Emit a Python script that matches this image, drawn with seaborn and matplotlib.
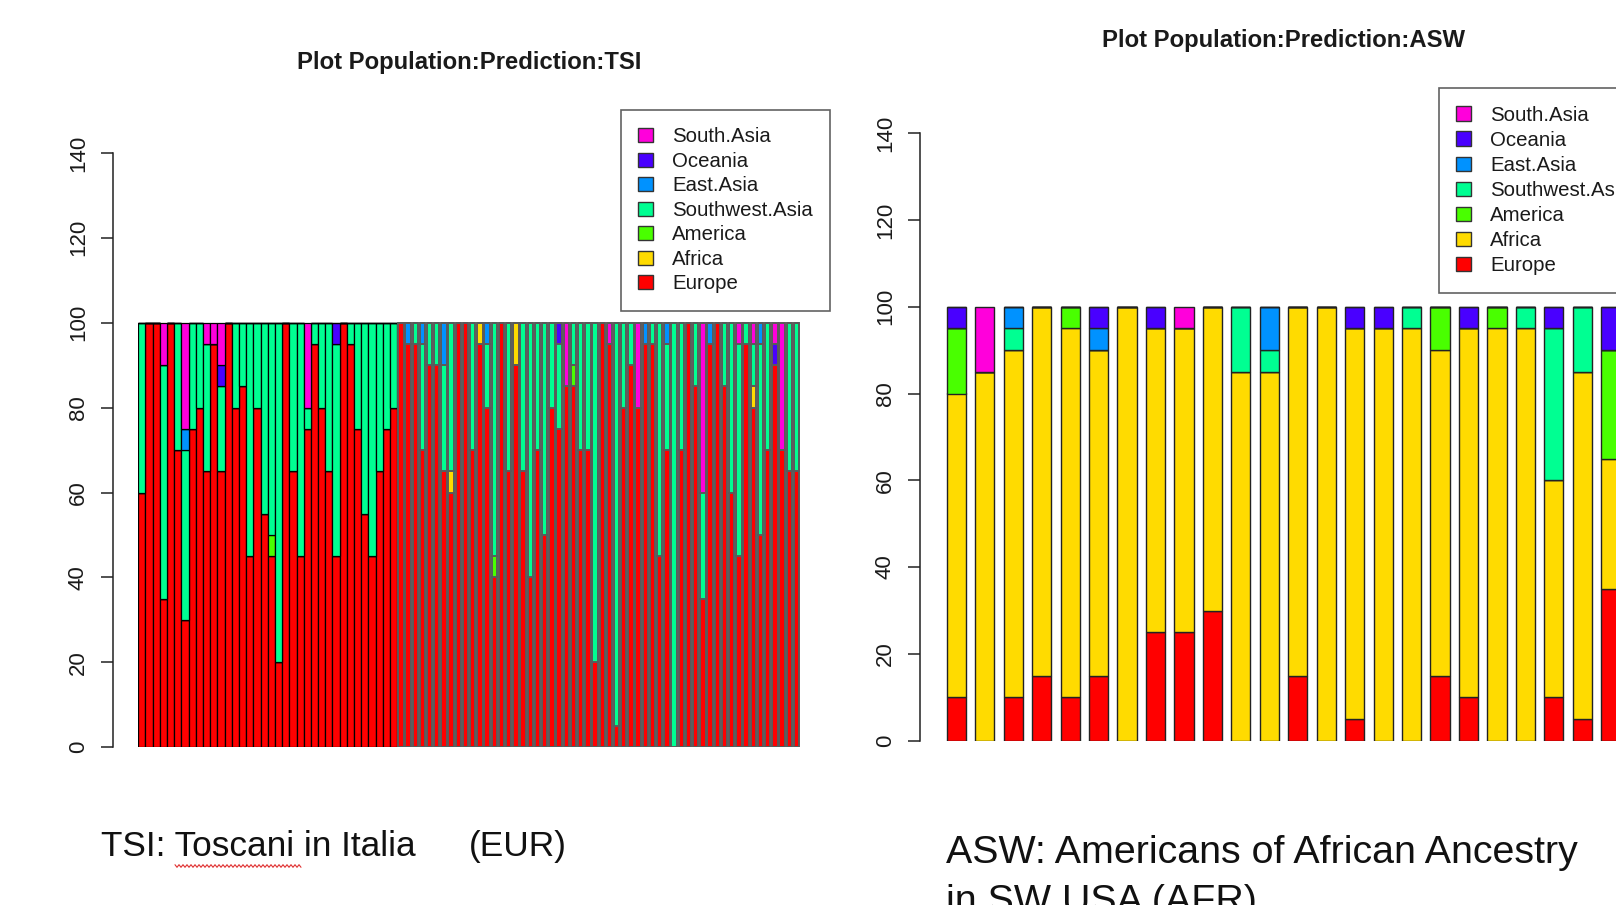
import numpy as np
import pandas as pd
import matplotlib
matplotlib.use("Agg")
import matplotlib.pyplot as plt
from matplotlib.patches import Patch
from matplotlib.lines import Line2D
import seaborn as sns

# Ancestry regions, listed top-of-stack first (legend order)
regions = ["South.Asia", "Oceania", "East.Asia", "Southwest.Asia",
           "America", "Africa", "Europe"]
region_colors = ["#FF00DB", "#4900FF", "#0092FF", "#00FF92",
                 "#49FF00", "#FFDB00", "#FF0000"]

# TSI individuals: predicted share (%) per region
tsi_europe = [60, 100, 100, 35, 100, 70, 30, 75, 80, 65,
              95, 65, 100, 80, 85, 45, 80, 55, 45, 20,
              100, 65, 45, 75, 95, 80, 65, 45, 100, 95,
              75, 55, 45, 65, 75, 80, 100, 95, 95, 70,
              90, 90, 65, 60, 100, 100, 70, 95, 80, 40,
              100, 65, 90, 65, 40, 70, 50, 80, 75, 85,
              85, 70, 70, 20, 100, 95, 5, 80, 90, 80,
              95, 95, 45, 70, 0, 70, 100, 85, 35, 95,
              100, 85, 60, 45, 95, 80, 50, 70, 90, 70,
              65, 65]
tsi_africa = [0, 0, 0, 0, 0, 0, 0, 0, 0, 0,
              0, 0, 0, 0, 0, 0, 0, 0, 0, 0,
              0, 0, 0, 0, 0, 0, 0, 0, 0, 0,
              0, 0, 0, 0, 0, 0, 0, 0, 0, 0,
              0, 0, 0, 5, 0, 0, 0, 5, 0, 0,
              0, 0, 10, 0, 0, 0, 0, 0, 0, 0,
              0, 0, 0, 0, 0, 0, 0, 0, 0, 0,
              0, 0, 0, 0, 0, 0, 0, 0, 0, 0,
              0, 0, 0, 0, 0, 5, 0, 0, 0, 0,
              0, 0]
tsi_america = [0, 0, 0, 0, 0, 0, 0, 0, 0, 0,
               0, 0, 0, 0, 0, 0, 0, 0, 5, 0,
               0, 0, 0, 0, 0, 0, 0, 0, 0, 0,
               0, 0, 0, 0, 0, 0, 0, 0, 0, 0,
               0, 0, 0, 0, 0, 0, 0, 0, 0, 5,
               0, 0, 0, 0, 0, 0, 0, 0, 0, 0,
               5, 0, 0, 0, 0, 0, 0, 0, 0, 0,
               0, 0, 0, 0, 0, 0, 0, 0, 0, 0,
               0, 0, 0, 0, 0, 0, 0, 0, 0, 0,
               0, 0]
tsi_southwest_asia = [40, 0, 0, 55, 0, 30, 40, 25, 20, 30,
                      0, 20, 0, 20, 15, 55, 20, 45, 50, 80,
                      0, 35, 55, 5, 5, 20, 35, 50, 0, 5,
                      25, 45, 55, 35, 25, 20, 0, 0, 5, 25,
                      10, 10, 25, 35, 0, 0, 30, 0, 15, 55,
                      0, 35, 0, 35, 60, 30, 50, 20, 20, 0,
                      10, 30, 30, 80, 0, 0, 95, 20, 10, 0,
                      0, 5, 55, 25, 100, 30, 0, 15, 25, 0,
                      0, 15, 40, 50, 5, 10, 45, 30, 0, 0,
                      35, 35]
tsi_east_asia = [0, 0, 0, 0, 0, 0, 5, 0, 0, 0,
                 0, 0, 0, 0, 0, 0, 0, 0, 0, 0,
                 0, 0, 0, 0, 0, 0, 0, 0, 0, 0,
                 0, 0, 0, 0, 0, 0, 0, 5, 0, 5,
                 0, 0, 10, 0, 0, 0, 0, 0, 5, 0,
                 0, 0, 0, 0, 0, 0, 0, 0, 0, 0,
                 0, 0, 0, 0, 0, 0, 0, 0, 0, 0,
                 5, 0, 0, 5, 0, 0, 0, 0, 0, 5,
                 0, 0, 0, 0, 0, 0, 5, 0, 0, 0,
                 0, 0]
tsi_oceania = [0, 0, 0, 0, 0, 0, 0, 0, 0, 0,
               0, 5, 0, 0, 0, 0, 0, 0, 0, 0,
               0, 0, 0, 0, 0, 0, 0, 5, 0, 0,
               0, 0, 0, 0, 0, 0, 0, 0, 0, 0,
               0, 0, 0, 0, 0, 0, 0, 0, 0, 0,
               0, 0, 0, 0, 0, 0, 0, 0, 5, 0,
               0, 0, 0, 0, 0, 0, 0, 0, 0, 0,
               0, 0, 0, 0, 0, 0, 0, 0, 0, 0,
               0, 0, 0, 0, 0, 0, 0, 0, 5, 0,
               0, 0]
tsi_south_asia = [0, 0, 0, 10, 0, 0, 25, 0, 0, 5,
                  5, 10, 0, 0, 0, 0, 0, 0, 0, 0,
                  0, 0, 0, 20, 0, 0, 0, 0, 0, 0,
                  0, 0, 0, 0, 0, 0, 0, 0, 0, 0,
                  0, 0, 0, 0, 0, 0, 0, 0, 0, 0,
                  0, 0, 0, 0, 0, 0, 0, 0, 0, 15,
                  0, 0, 0, 0, 0, 5, 0, 0, 0, 20,
                  0, 0, 0, 0, 0, 0, 0, 0, 40, 0,
                  0, 0, 0, 5, 0, 5, 0, 0, 5, 30,
                  0, 0]

# ASW individuals: predicted share (%) per region
asw_europe = [10, 0, 10, 15, 10, 15, 0, 25, 25, 30,
              0, 0, 15, 0, 5, 0, 0, 15, 10, 0,
              0, 10, 5, 35]
asw_africa = [70, 85, 80, 85, 85, 75, 100, 70, 70, 70,
              85, 85, 85, 100, 90, 95, 95, 75, 85, 95,
              95, 50, 80, 30]
asw_america = [15, 0, 0, 0, 5, 0, 0, 0, 0, 0,
               0, 0, 0, 0, 0, 0, 0, 10, 0, 5,
               0, 0, 0, 25]
asw_southwest_asia = [0, 0, 5, 0, 0, 0, 0, 0, 0, 0,
                      15, 5, 0, 0, 0, 0, 5, 0, 0, 0,
                      5, 35, 15, 0]
asw_east_asia = [0, 0, 5, 0, 0, 5, 0, 0, 0, 0,
                 0, 10, 0, 0, 0, 0, 0, 0, 0, 0,
                 0, 0, 0, 0]
asw_oceania = [5, 0, 0, 0, 0, 5, 0, 5, 0, 0,
               0, 0, 0, 0, 5, 5, 0, 0, 5, 0,
               0, 5, 0, 10]
asw_south_asia = [0, 15, 0, 0, 0, 0, 0, 0, 5, 0,
                  0, 0, 0, 0, 0, 0, 0, 0, 0, 0,
                  0, 0, 0, 0]

y_ticks = [0, 20, 40, 60, 80, 100, 120, 140]
title_tsi = "Plot Population:Prediction:TSI"
title_asw = "Plot Population:Prediction:ASW"
caption_tsi = "TSI: Toscani in Italia"
caption_tsi_group = "(EUR)"
caption_asw = ["ASW: Americans of African Ancestry", "in SW USA (AFR)"]

palette = dict(zip(regions, region_colors))


def to_long(columns):
    frames = []
    for region, vals in zip(regions, columns):
        frames.append(pd.DataFrame({"individual": np.arange(len(vals)),
                                    "region": region, "pct": vals}))
    return pd.concat(frames, ignore_index=True)


tsi = to_long([tsi_south_asia, tsi_oceania, tsi_east_asia, tsi_southwest_asia,
               tsi_america, tsi_africa, tsi_europe])
asw = to_long([asw_south_asia, asw_oceania, asw_east_asia, asw_southwest_asia,
               asw_america, asw_africa, asw_europe])

sns.set_theme(style="white")
plt.rcParams["font.family"] = ["Liberation Sans", "DejaVu Sans"]
plt.rcParams["text.color"] = "#1a1a1a"

W, H = 1616, 905
fig = plt.figure(figsize=(W / 100, H / 100), dpi=100)
fig.patch.set_facecolor("white")


def px_axes(left, top, right, bottom):
    return fig.add_axes([left / W, 1 - bottom / H, (right - left) / W, (bottom - top) / H])


def stacked(ax, df, shrink, edgecolor, lw):
    sns.histplot(data=df, x="individual", weights="pct", hue="region",
                 hue_order=regions, palette=palette, multiple="stack",
                 discrete=True, shrink=shrink, edgecolor=edgecolor,
                 linewidth=lw, alpha=1, legend=False, ax=ax)


def style_axes(ax, spine_out_pt):
    ax.set_facecolor("none")
    ax.set_ylim(0, 140)
    ax.set_yticks(y_ticks)
    ax.set_yticklabels([str(t) for t in y_ticks])
    ax.set_xticks([])
    ax.set_xlabel("")
    ax.set_ylabel("")
    for side in ("top", "right", "bottom"):
        ax.spines[side].set_visible(False)
    ax.spines["left"].set_position(("outward", spine_out_pt))
    ax.spines["left"].set_color("#222222")
    ax.spines["left"].set_linewidth(1.1)
    ax.tick_params(axis="y", left=True, direction="out", length=9, width=1.1,
                   color="#222222", pad=8.5, labelsize=16, labelcolor="#1a1a1a",
                   labelrotation=90)
    for lbl in ax.get_yticklabels():
        lbl.set_verticalalignment("center")


# Left panel: TSI (first block drawn tight, second block with gaps)
ax_tsi = px_axes(138.3, 152.9, 800.0, 747.3)
stacked(ax_tsi, tsi[tsi["individual"] < 36], 1.0, "#000000", 0.9)
stacked(ax_tsi, tsi[tsi["individual"] >= 36], 0.75, "#5a5a5a", 1.4)
ax_tsi.set_xlim(-0.5, len(tsi_europe) - 0.5)
style_axes(ax_tsi, 18)

# Right panel: ASW
ax_asw = px_axes(930.0, 133.1, 1720.0, 740.7)
stacked(ax_asw, asw, 0.675, "#222222", 1.0)
ax_asw.set_xlim(-0.924, 26.84)
style_axes(ax_asw, 7)

# Legends
handles = [Patch(facecolor=palette[r], edgecolor="#333333", linewidth=1.0, label=r)
           for r in regions]
for anchor, spacing in (((621 / W, 1 - 110 / H), 0.27), ((1439 / W, 1 - 88.3 / H), 0.3)):
    leg = fig.legend(handles=handles, loc="upper left", bbox_to_anchor=anchor,
                     frameon=True, fancybox=False, fontsize=14.7,
                     handlelength=0.7, handleheight=0.7, handletextpad=0.95,
                     labelspacing=spacing, borderpad=0.85, borderaxespad=0)
    leg.get_frame().set_edgecolor("#3a3a3a")
    leg.get_frame().set_linewidth(1.2)
    for t in leg.get_texts():
        t.set_color("#1a1a1a")

# Panel titles
fig.text(469 / W, 1 - 62 / H, title_tsi, ha="center", va="center",
         fontsize=17.2, fontweight="bold")
fig.text(1283 / W, 1 - 40 / H, title_asw, ha="center", va="center",
         fontsize=17.2, fontweight="bold")

# Captions under the panels
fig.text(101 / W, 1 - 856 / H, caption_tsi, ha="left", va="baseline",
         fontsize=25.4, color="#111111")
fig.text(469 / W, 1 - 856 / H, caption_tsi_group, ha="left", va="baseline",
         fontsize=25.4, color="#111111")
fig.text(946 / W, 1 - 863 / H, caption_asw[0], ha="left", va="baseline",
         fontsize=28.4, color="#111111")
fig.text(946 / W, 1 - 912 / H, caption_asw[1], ha="left", va="baseline",
         fontsize=28.4, color="#111111")

# Spell-check squiggle under "Toscani"
sx = np.arange(175, 302, 2.0)
sy = 866 + np.where(np.arange(len(sx)) % 2 == 0, -1.3, 1.3)
fig.add_artist(Line2D(sx / W, 1 - sy / H, transform=fig.transFigure,
                      color="#e03030", linewidth=0.8))

fig.savefig("out.png", dpi=100, facecolor="white")
